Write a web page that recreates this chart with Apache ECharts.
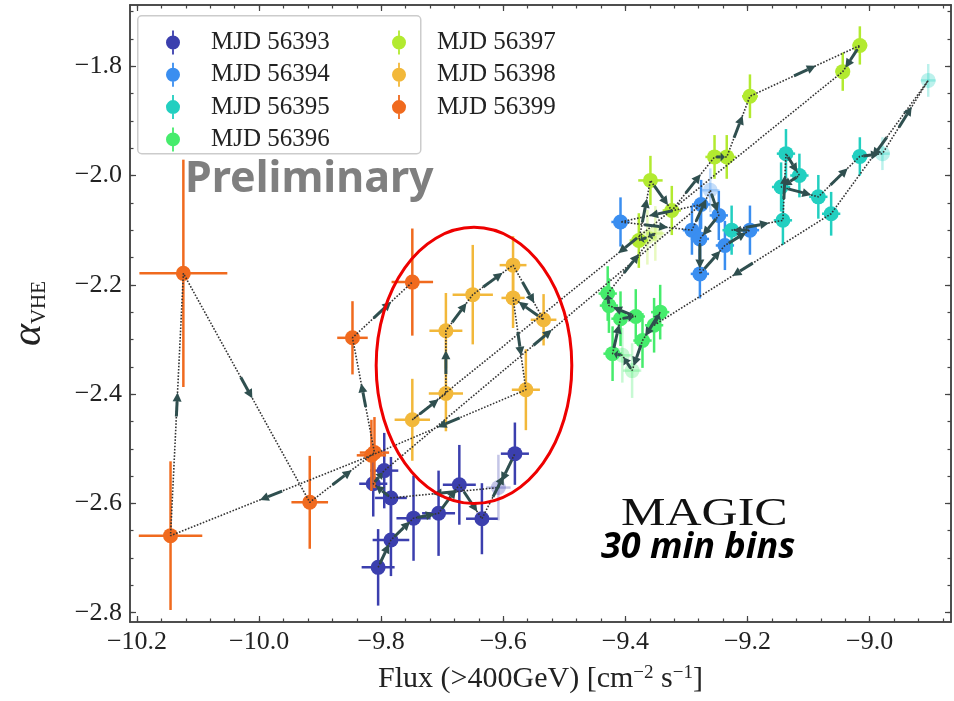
<!DOCTYPE html>
<html>
<head>
<meta charset="utf-8">
<script src="https://cdn.jsdelivr.net/npm/echarts@6/dist/echarts.min.js"></script>
<style>
  html, body { margin: 0; background: #fff; }
  #main { width: 954px; height: 701px; }
</style>
</head>
<body>
<div id="main"></div>
<script>
// MAGIC 30 min bins: log flux vs VHE photon index, one array set per night (time order)
const days = ["MJD 56393", "MJD 56394", "MJD 56395", "MJD 56396", "MJD 56397", "MJD 56398", "MJD 56399"];
const dayColors = ["#3b3fae", "#3a8ef0", "#22cfc0", "#46ec6c", "#b2ea30", "#f2b83a", "#f06a1e"];

const flux56393 = [-9.805, -9.784, -9.747, -9.706, -9.672, -9.635, -9.581, -9.608, -9.784, -9.813, -9.795];
const alpha56393 = [-2.717, -2.667, -2.627, -2.618, -2.566, -2.628, -2.509, -2.571, -2.590, -2.564, -2.540];
const fluxErr56393 = [0.027, 0.030, 0.028, 0.027, 0.027, 0.026, 0.023, 0.02, 0.026, 0.023, 0.023];
const alphaErr56393 = [0.070, 0.066, 0.078, 0.078, 0.073, 0.065, 0.057, 0.06, 0.075, 0.06, 0.069];
const faint56393 = [7];

const flux56394 = [-9.276, -9.408, -9.291, -9.261, -9.247, -9.278, -9.278, -9.237, -9.196];
const alpha56394 = [-2.053, -2.085, -2.100, -2.027, -2.073, -2.116, -2.180, -2.128, -2.100];
const fluxErr56394 = [0.015, 0.015, 0.015, 0.015, 0.015, 0.015, 0.015, 0.015, 0.015];
const alphaErr56394 = [0.045, 0.045, 0.045, 0.04, 0.045, 0.045, 0.045, 0.045, 0.045];
const faint56394 = [3];

const flux56395 = [-9.226, -9.142, -9.137, -9.115, -9.145, -9.084, -9.016, -8.979, -8.904, -9.063];
const alpha56395 = [-2.100, -2.082, -1.960, -2.000, -2.021, -2.039, -1.965, -1.960, -1.826, -2.070];
const fluxErr56395 = [0.015, 0.015, 0.015, 0.015, 0.015, 0.015, 0.013, 0.012, 0.012, 0.015];
const alphaErr56395 = [0.045, 0.045, 0.045, 0.04, 0.045, 0.04, 0.035, 0.03, 0.03, 0.04];
const faint56395 = [7, 8];

const flux56396 = [-9.353, -9.343, -9.372, -9.389, -9.405, -9.421, -9.408, -9.383, -9.427, -9.429];
const alpha56396 = [-2.274, -2.250, -2.302, -2.357, -2.329, -2.326, -2.262, -2.258, -2.238, -2.216];
const fluxErr56396 = [0.015, 0.015, 0.015, 0.015, 0.015, 0.015, 0.015, 0.015, 0.015, 0.015];
const alphaErr56396 = [0.05, 0.05, 0.05, 0.05, 0.05, 0.05, 0.05, 0.05, 0.05, 0.05];
const faint56396 = [3, 4];

const flux56397 = [-9.351, -9.364, -9.378, -9.359, -9.324, -9.254, -9.234, -9.196, -9.016, -9.044];
const alpha56397 = [-2.106, -2.113, -2.119, -2.009, -2.064, -1.966, -1.966, -1.855, -1.762, -1.810];
const fluxErr56397 = [0.015, 0.015, 0.015, 0.02, 0.015, 0.015, 0.015, 0.013, 0.012, 0.012];
const alphaErr56397 = [0.05, 0.05, 0.05, 0.045, 0.045, 0.04, 0.04, 0.04, 0.035, 0.035];
const faint56397 = [0, 1];

const flux56398 = [-9.749, -9.694, -9.694, -9.650, -9.584, -9.534, -9.584, -9.563];
const alpha56398 = [-2.447, -2.399, -2.284, -2.218, -2.164, -2.264, -2.224, -2.392];
const fluxErr56398 = [0.029, 0.028, 0.027, 0.033, 0.022, 0.021, 0.019, 0.023];
const alphaErr56398 = [0.075, 0.069, 0.069, 0.091, 0.053, 0.047, 0.055, 0.074];
const faint56398 = [];

const flux56399 = [-9.816, -10.145, -10.124, -9.917, -9.811, -9.847, -9.749];
const alpha56399 = [-2.512, -2.659, -2.179, -2.598, -2.507, -2.297, -2.195];
const fluxErr56399 = [0.024, 0.052, 0.072, 0.030, 0.024, 0.025, 0.034];
const alphaErr56399 = [0.065, 0.136, 0.208, 0.085, 0.065, 0.067, 0.098];
const faint56399 = [];

const xTickLabels = [-10.2, -10.0, -9.8, -9.6, -9.4, -9.2, -9.0];
const yTickLabels = [-2.8, -2.6, -2.4, -2.2, -2.0, -1.8];

const nights = [
  [flux56393, alpha56393, fluxErr56393, alphaErr56393, faint56393],
  [flux56394, alpha56394, fluxErr56394, alphaErr56394, faint56394],
  [flux56395, alpha56395, fluxErr56395, alphaErr56395, faint56395],
  [flux56396, alpha56396, fluxErr56396, alphaErr56396, faint56396],
  [flux56397, alpha56397, fluxErr56397, alphaErr56397, faint56397],
  [flux56398, alpha56398, fluxErr56398, alphaErr56398, faint56398],
  [flux56399, alpha56399, fluxErr56399, alphaErr56399, faint56399]
];

const xMin = -10.2114, xMax = -8.8667, yMin = -2.817, yMax = -1.688;
const xMinor = [], yMinor = [];
for (let v = -10.2; v <= -8.87; v += 0.04) xMinor.push(+v.toFixed(2));
for (let v = -2.8; v <= -1.69; v += 0.05) yMinor.push(+v.toFixed(2));

const serif = "Liberation Serif";
const axisColor = "#444";
const fmt = v => (v < 0 ? "\u2212" : "") + Math.abs(v).toFixed(1);

// full trajectory in time order, and arrow segments between consecutive points
const path = [];
nights.forEach(n => n[0].forEach((f, i) => path.push([f, n[1][i]])));
const segments = [];
for (let i = 0; i < path.length - 1; i++) {
  segments.push([path[i][0], path[i][1], path[i + 1][0], path[i + 1][1]]);
}

function renderPoint(params, api) {
  const x = api.value(0), y = api.value(1), ex = api.value(2), ey = api.value(3);
  const op = api.value(4) ? 0.3 : 1;
  const color = api.visual("color");
  const c = api.coord([x, y]);
  const l = api.coord([x - ex, y]), r = api.coord([x + ex, y]);
  const t = api.coord([x, y + ey]), b = api.coord([x, y - ey]);
  return {
    type: "group",
    children: [
      { type: "line", shape: { x1: l[0], y1: l[1], x2: r[0], y2: r[1] }, style: { stroke: color, lineWidth: 2.5, opacity: op } },
      { type: "line", shape: { x1: t[0], y1: t[1], x2: b[0], y2: b[1] }, style: { stroke: color, lineWidth: 2.5, opacity: op } },
      { type: "circle", shape: { cx: c[0], cy: c[1], r: 7.5 }, style: { fill: color, opacity: op } }
    ]
  };
}

function renderArrow(params, api) {
  const p = api.coord([api.value(0), api.value(1)]);
  const q = api.coord([api.value(2), api.value(3)]);
  const dx = q[0] - p[0], dy = q[1] - p[1];
  const L = Math.hypot(dx, dy);
  if (L < 2) return null;
  const ux = dx / L, uy = dy / L;
  const len = Math.min(24, L * 0.7);
  const mx = (p[0] + q[0]) / 2, my = (p[1] + q[1]) / 2;
  const sx = mx - ux * len / 2, sy = my - uy * len / 2;
  const ex = mx + ux * len / 2, ey = my + uy * len / 2;
  const hl = Math.min(9, len * 0.5), hw = 4.5;
  const bx = ex - ux * hl, by = ey - uy * hl;
  return {
    type: "group",
    children: [
      { type: "line", shape: { x1: sx, y1: sy, x2: bx, y2: by }, style: { stroke: "#2f4f4f", lineWidth: 3 } },
      { type: "polygon", shape: { points: [[ex, ey], [bx - uy * hw, by + ux * hw], [bx + uy * hw, by - ux * hw]] }, style: { fill: "#2f4f4f" } }
    ]
  };
}

function xAxisDef(pos, ticks, len, labels) {
  return {
    type: "value", position: pos, min: xMin, max: xMax,
    axisLine: { show: true, onZero: false, lineStyle: { color: axisColor, width: 1.5 } },
    axisTick: { show: true, inside: true, length: len, customValues: ticks, lineStyle: { color: axisColor, width: 1.2 } },
    axisLabel: labels ? { customValues: xTickLabels, formatter: fmt, fontFamily: serif, fontSize: 26, color: "#222", margin: 7 } : { show: false },
    splitLine: { show: false }
  };
}
function yAxisDef(pos, ticks, len, labels) {
  return {
    type: "value", position: pos, min: yMin, max: yMax,
    axisLine: { show: true, onZero: false, lineStyle: { color: axisColor, width: 1.5 } },
    axisTick: { show: true, inside: true, length: len, customValues: ticks, lineStyle: { color: axisColor, width: 1.2 } },
    axisLabel: labels ? { customValues: yTickLabels, formatter: fmt, fontFamily: serif, fontSize: 26, color: "#222", margin: 8 } : { show: false },
    splitLine: { show: false }
  };
}

const x0 = Object.assign(xAxisDef("bottom", xTickLabels, 6, true), {
  name: "{t|Flux (>400GeV) [cm}{u|\u22122}{t| s}{u|\u22121}{t|]}",
  nameLocation: "middle", nameGap: 42,
  nameTextStyle: {
    rich: {
      t: { fontFamily: serif, fontSize: 30, color: "#222" },
      u: { fontFamily: serif, fontSize: 19, color: "#222", verticalAlign: "top" }
    }
  }
});
const y0 = Object.assign(yAxisDef("left", yTickLabels, 6, true), {
  name: "{a|\u03b1}{s|VHE}",
  nameLocation: "middle", nameRotate: 90, nameGap: 80,
  nameTextStyle: {
    rich: {
      a: { fontFamily: serif, fontSize: 42, fontStyle: "italic", color: "#222" },
      s: { fontFamily: serif, fontSize: 21, color: "#222", verticalAlign: "bottom" }
    }
  }
});

const legendIcon = "path://M0,12 A7,7 0 1,1 14,12 A7,7 0 1,1 0,12 Z M6.1,0 H7.9 V5.5 H6.1 Z M6.1,18.5 H7.9 V24 H6.1 Z";
const legendText = { fontFamily: serif, fontSize: 25, color: "#222", padding: [0, 0, 0, 26] };

const series = nights.map((n, k) => ({
  name: days[k],
  type: "custom",
  xAxisIndex: 0, yAxisIndex: 0,
  itemStyle: { color: dayColors[k] },
  renderItem: renderPoint,
  encode: { x: 0, y: 1 },
  data: n[0].map((f, i) => [f, n[1][i], n[2][i], n[3][i], n[4].includes(i) ? 1 : 0]),
  z: 2
}));
series.push({
  type: "line", xAxisIndex: 0, yAxisIndex: 0,
  data: path, symbol: "none", silent: true,
  lineStyle: { type: "dotted", width: 1.6, color: "#333" }, z: 3
});
series.push({
  type: "custom", xAxisIndex: 0, yAxisIndex: 0,
  renderItem: renderArrow, encode: { x: [0, 2], y: [1, 3] },
  data: segments, silent: true, z: 4
});

const chart = echarts.init(document.getElementById("main"));
chart.setOption({
  animation: false,
  grid: { left: 124, right: 3, top: 5, bottom: 79 },
  xAxis: [
    x0,
    xAxisDef("top", xTickLabels, 6, false),
    xAxisDef("bottom", xMinor, 3.5, false),
    xAxisDef("top", xMinor, 3.5, false)
  ],
  yAxis: [
    y0,
    yAxisDef("right", yTickLabels, 6, false),
    yAxisDef("left", yMinor, 3.5, false),
    yAxisDef("right", yMinor, 3.5, false)
  ],
  legend: [
    { data: days.slice(0, 4).map(d => ({ name: d, icon: legendIcon })), orient: "vertical", left: 161, top: 25,
      itemWidth: 14, itemHeight: 24, itemGap: 7.3, textStyle: legendText, selectedMode: false },
    { data: days.slice(4).map(d => ({ name: d, icon: legendIcon })), orient: "vertical", left: 387, top: 25,
      itemWidth: 14, itemHeight: 24, itemGap: 7.3, textStyle: legendText, selectedMode: false }
  ],
  series: series
});

// annotation ellipse around the MJD 56398 loop (data units), plus texts
const ellipseCenter = [-9.648, -2.3476], ellipseRx = 0.1602, ellipseRy = 0.2527;
const c = chart.convertToPixel({ xAxisIndex: 0, yAxisIndex: 0 }, ellipseCenter);
const e = chart.convertToPixel({ xAxisIndex: 0, yAxisIndex: 0 }, [ellipseCenter[0] + ellipseRx, ellipseCenter[1] - ellipseRy]);
chart.setOption({
  graphic: [
    { type: "rect", left: 137, top: 15, shape: { width: 283, height: 138, r: 4 },
      style: { fill: "rgba(255,255,255,0.8)", stroke: "#cccccc", lineWidth: 1.5 }, z: 0 },
    { type: "text", left: 185, top: 158, style: { text: "Preliminary", font: "bold 43px 'Noto Sans'", fill: "#7f7f7f" }, z: 1 },
    { type: "text", left: 621, top: 494, scaleX: 1.25, style: { text: "MAGIC", font: "40px 'Liberation Serif'", fill: "#111" }, z: 1 },
    { type: "text", left: 601, top: 530, style: { text: "30 min bins", font: "italic bold 36px 'Open Sans'", fill: "#000" }, z: 1 },
    { type: "ellipse", shape: { cx: c[0], cy: c[1], rx: e[0] - c[0], ry: e[1] - c[1] },
      style: { fill: "none", stroke: "#ee0000", lineWidth: 3 }, z: 10 }
  ]
});
</script>
</body>
</html>
